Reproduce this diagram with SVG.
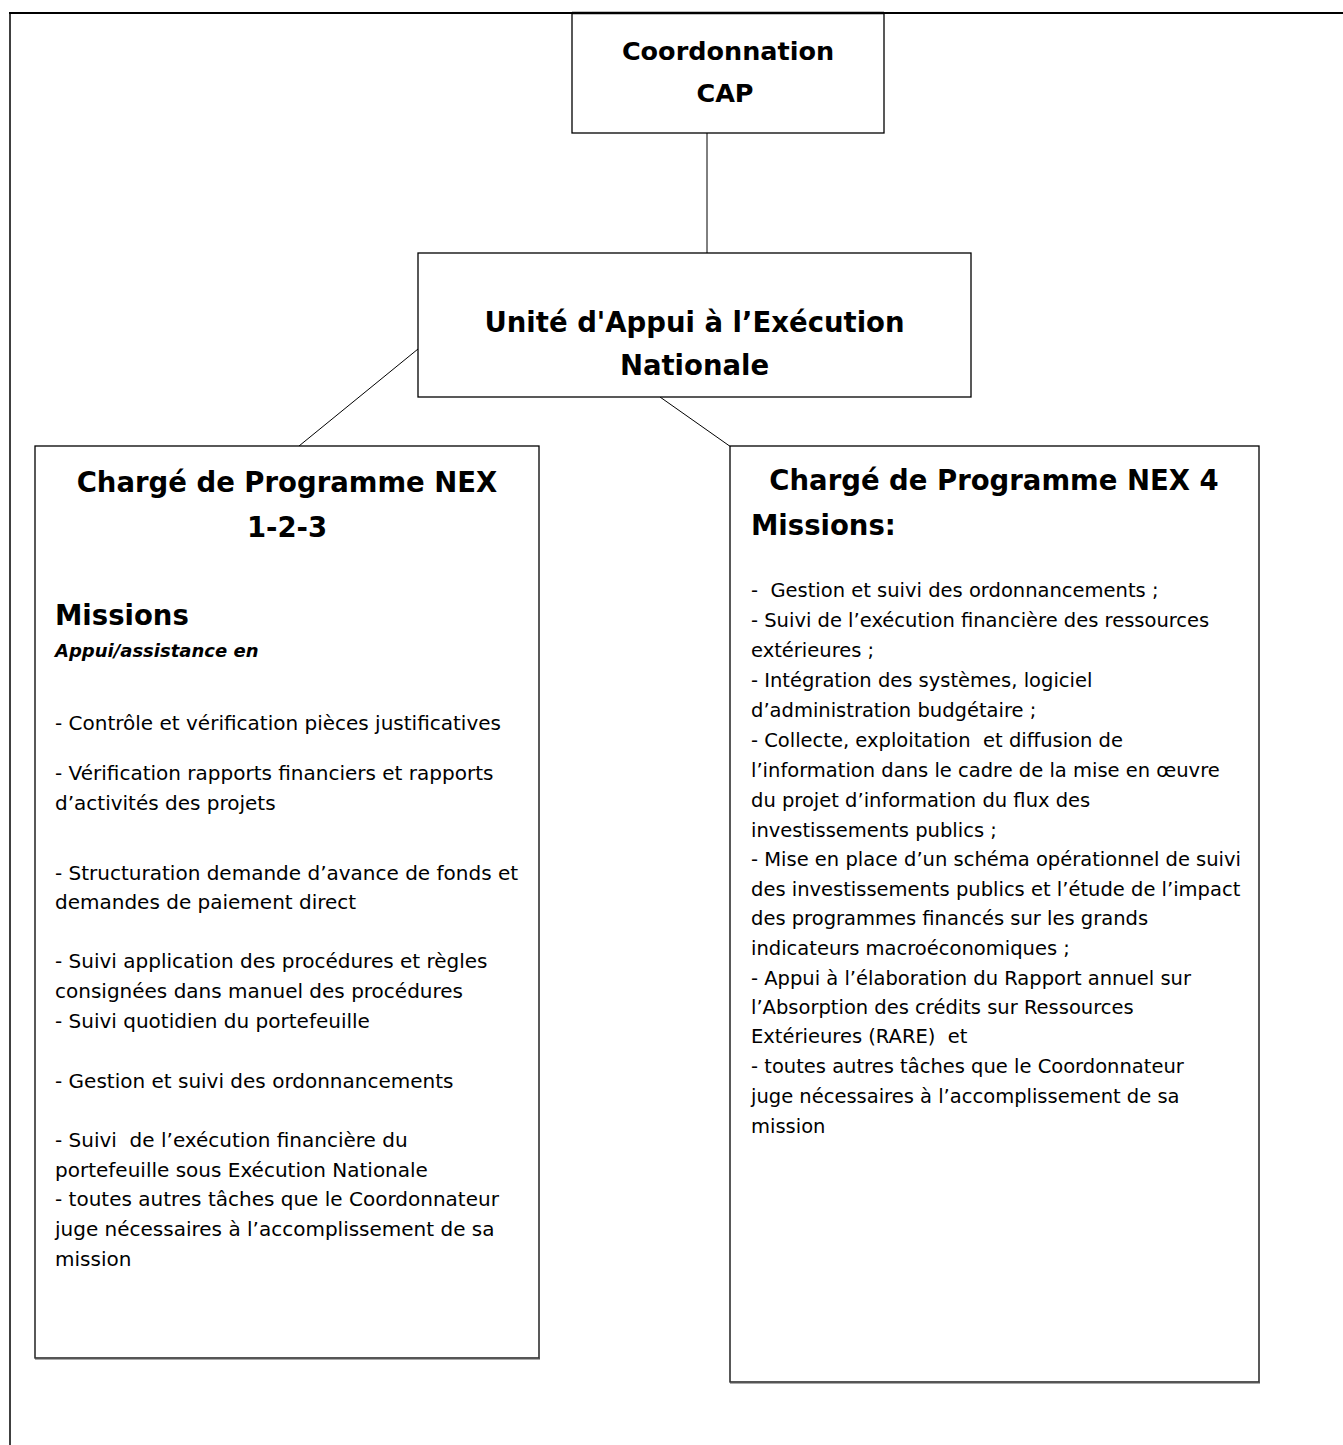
<svg xmlns="http://www.w3.org/2000/svg" width="1343" height="1445" viewBox="0 0 1343 1445" xml:space="preserve">
<style>
  .box { fill: #fff; stroke: #000; stroke-width: 1.3; }
  .shadow { stroke: #555; stroke-width: 2; fill: none; }
  .conn { stroke: #000; stroke-width: 1; fill: none; }
  .frame { stroke: #000; fill: none; }
  .h { font-family: "DejaVu Sans", "Open Sans", sans-serif; font-weight: bold; fill: #000; }
  .hc { text-anchor: middle; font-size: 27.5px; }
  .sub { font-family: "DejaVu Sans", sans-serif; font-weight: bold; font-style: italic; font-size: 18px; fill: #000; }
  .b { font-family: "DejaVu Sans", "Open Sans", sans-serif; font-size: 20px; fill: #000; white-space: pre; }
  .r { font-size: 19.5px; }
</style>
<rect x="0" y="0" width="1343" height="1445" fill="#fff"/>
<g id="frame">
  <line class="frame" x1="9" y1="13" x2="1343" y2="13" stroke-width="2.2"/>
  <line class="frame" x1="10" y1="13" x2="10" y2="1445" stroke-width="1.5"/>
</g>
<g id="connectors">
  <line class="conn" x1="707" y1="133" x2="707" y2="253"/>
  <line class="conn" x1="418" y1="349" x2="299" y2="446"/>
  <line class="conn" x1="660" y1="397" x2="731" y2="447"/>
</g>
<g id="node-coordonnation">
  <rect class="box" x="572" y="13" width="312" height="120"/>
  <line x1="572" y1="13" x2="884" y2="13" stroke="#000" stroke-width="2.4"/>
  <text class="h" text-anchor="middle" font-size="25.5" x="728" y="60">Coordonnation</text>
  <text class="h" text-anchor="middle" font-size="25.5" x="725" y="102">CAP</text>
</g>
<g id="node-unite">
  <rect class="box" x="418" y="253" width="553" height="144"/>
  <text class="h hc" x="694.5" y="332">Unité d'Appui à l’Exécution</text>
  <text class="h hc" x="694.5" y="375">Nationale</text>
</g>
<g id="node-nex123">
  <rect class="box" x="35" y="446" width="504" height="912"/>
  <line class="shadow" x1="35" y1="1358.5" x2="540" y2="1358.5"/>
  <text class="h hc" x="287" y="492">Chargé de Programme NEX</text>
  <text class="h hc" x="287" y="537">1-2-3</text>
  <text class="h" font-size="27.5" x="55" y="625">Missions</text>
  <text class="sub" x="55" y="657">Appui/assistance en</text>
  <text class="b" x="55" y="730">- Contrôle et vérification pièces justificatives</text>
  <text class="b" x="55" y="780">- Vérification rapports financiers et rapports</text>
  <text class="b" x="55" y="810">d’activités des projets</text>
  <text class="b" x="55" y="880">- Structuration demande d’avance de fonds et</text>
  <text class="b" x="55" y="909">demandes de paiement direct</text>
  <text class="b" x="55" y="968">- Suivi application des procédures et règles</text>
  <text class="b" x="55" y="998">consignées dans manuel des procédures</text>
  <text class="b" x="55" y="1028">- Suivi quotidien du portefeuille</text>
  <text class="b" x="55" y="1088">- Gestion et suivi des ordonnancements</text>
  <text class="b" x="55" y="1147">- Suivi  de l’exécution financière du</text>
  <text class="b" x="55" y="1177">portefeuille sous Exécution Nationale</text>
  <text class="b" x="55" y="1206">- toutes autres tâches que le Coordonnateur</text>
  <text class="b" x="55" y="1236">juge nécessaires à l’accomplissement de sa</text>
  <text class="b" x="55" y="1266">mission</text>
</g>
<g id="node-nex4">
  <rect class="box" x="730" y="446" width="529" height="936"/>
  <line class="shadow" x1="730" y1="1382.5" x2="1260" y2="1382.5"/>
  <text class="h hc" x="994" y="490">Chargé de Programme NEX 4</text>
  <text class="h" font-size="27.5" x="751" y="535">Missions:</text>
  <text class="b r" x="751" y="597">-  Gestion et suivi des ordonnancements ;</text>
  <text class="b r" x="751" y="627">- Suivi de l’exécution financière des ressources</text>
  <text class="b r" x="751" y="657">extérieures ;</text>
  <text class="b r" x="751" y="687">- Intégration des systèmes, logiciel</text>
  <text class="b r" x="751" y="717">d’administration budgétaire ;</text>
  <text class="b r" x="751" y="747">- Collecte, exploitation  et diffusion de</text>
  <text class="b r" x="751" y="777">l’information dans le cadre de la mise en œuvre</text>
  <text class="b r" x="751" y="807">du projet d’information du flux des</text>
  <text class="b r" x="751" y="837">investissements publics ;</text>
  <text class="b r" x="751" y="866">- Mise en place d’un schéma opérationnel de suivi</text>
  <text class="b r" x="751" y="896">des investissements publics et l’étude de l’impact</text>
  <text class="b r" x="751" y="925">des programmes financés sur les grands</text>
  <text class="b r" x="751" y="955">indicateurs macroéconomiques ;</text>
  <text class="b r" x="751" y="985">- Appui à l’élaboration du Rapport annuel sur</text>
  <text class="b r" x="751" y="1014">l’Absorption des crédits sur Ressources</text>
  <text class="b r" x="751" y="1043">Extérieures (RARE)  et</text>
  <text class="b r" x="751" y="1073">- toutes autres tâches que le Coordonnateur</text>
  <text class="b r" x="751" y="1103">juge nécessaires à l’accomplissement de sa</text>
  <text class="b r" x="751" y="1133">mission</text>
</g>
</svg>
